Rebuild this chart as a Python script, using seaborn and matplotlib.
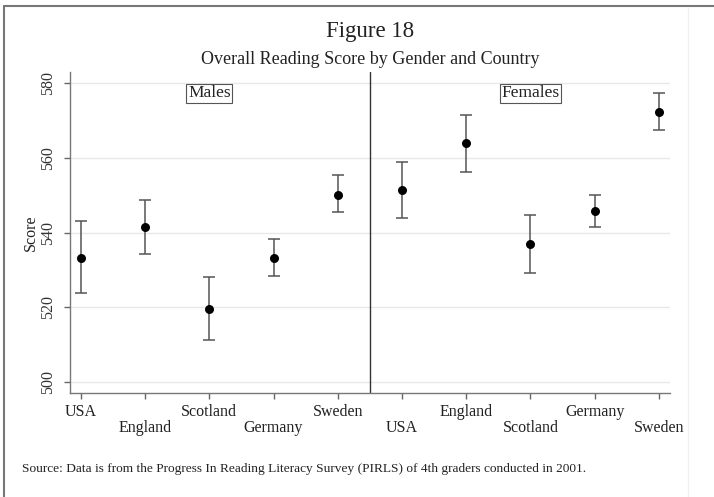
"""
Figure 18: overall reading score by gender and country (PIRLS 2001).
"""

import numpy as np
import pandas as pd
import matplotlib
matplotlib.use('Agg')
import matplotlib.pyplot as plt
import seaborn as sns

countries = ["USA", "England", "Scotland", "Germany", "Sweden"]
genders = ["Males", "Females"]
male_score = [533.3, 541.4, 519.5, 533.3, 550.2]
male_low = [523.8, 534.3, 511.3, 528.5, 545.4]
male_high = [543.0, 548.8, 528.0, 538.2, 555.4]
female_score = [551.3, 564.0, 537.0, 545.8, 572.4]
female_low = [543.8, 556.3, 529.3, 541.6, 567.4]
female_high = [558.8, 571.6, 544.7, 550.2, 577.5]

df = pd.DataFrame({
    "gender": np.repeat(genders, len(countries)),
    "country": countries * 2,
    "score": male_score + female_score,
    "low": male_low + female_low,
    "high": male_high + female_high,
})
df["pos"] = np.arange(1, len(df) + 1)

sns.set_theme(style="white")
plt.rcParams['font.family'] = ['Liberation Serif', 'DejaVu Serif']

fig = plt.figure(figsize=(7.14, 4.97), dpi=100)
ax = fig.add_axes([0.098, 0.209, 0.840, 0.646])

for y in [500, 520, 540, 560, 580]:
    ax.axhline(y, color='#e8e8e8', linewidth=1.0, zorder=0)

ax.errorbar(df["pos"], df["score"],
            yerr=[df["score"] - df["low"], df["high"] - df["score"]],
            fmt='none', ecolor='#555555', elinewidth=1.1, capsize=4, capthick=1.1, zorder=2)
sns.scatterplot(data=df, x="pos", y="score", ax=ax, color='black', s=42,
                edgecolor='black', linewidth=0, zorder=3, legend=False)

ax.axvline(5.5, color='#333333', linewidth=1.0, zorder=1)

ax.set_xlim(0.83, 10.17)
ax.set_ylim(497, 583)
ax.set_yticks([500, 520, 540, 560, 580])
ax.set_yticklabels(['500', '520', '540', '560', '580'], rotation=90, va='center',
                   fontsize=11.5, color='#333333')
ax.set_xticks(df["pos"])
ax.set_xticklabels([])
for p, c in zip(df["pos"], df["country"]):
    off = 0 if p % 2 == 1 else -11.5
    ax.annotate(c, xy=(p, 0), xycoords=('data', 'axes fraction'),
                xytext=(0, -7.5 + off), textcoords='offset points',
                ha='center', va='top', fontsize=11.5, color='#222222')

ax.tick_params(axis='both', direction='out', length=4, width=1, color='#666666',
               bottom=True, left=True)
ax.tick_params(axis='y', pad=6)
for side in ['top', 'right']:
    ax.spines[side].set_visible(False)
for side in ['left', 'bottom']:
    ax.spines[side].set_color('#777777')
    ax.spines[side].set_linewidth(1.0)

ax.set_xlabel('')
ax.set_ylabel('Score', fontsize=11.5, color='#222222', labelpad=1)

for x, g in [(3, "Males"), (8, "Females")]:
    ax.text(x, 577.3, g, ha='center', va='center', fontsize=12.5, color='#222222',
            bbox=dict(boxstyle='square,pad=0.1', facecolor='white', edgecolor='#555555', linewidth=0.8))

fig.text(0.518, 0.937, "Figure 18", ha='center', va='center', fontsize=16.5, color='#222222')
fig.text(0.518, 0.881, "Overall Reading Score by Gender and Country", ha='center',
         va='center', fontsize=13, color='#222222')
fig.text(0.031, 0.056, "Source: Data is from the Progress In Reading Literacy Survey (PIRLS) of 4th graders conducted in 2001.",
         ha='left', va='center', fontsize=9.6, color='#222222')

# page frame lines (top and left)
fig.add_artist(plt.Line2D([0.006, 1.0], [0.988, 0.988], color='#777777', linewidth=1.5))
fig.add_artist(plt.Line2D([0.006, 0.006], [0.0, 0.988], color='#777777', linewidth=1.5))
fig.add_artist(plt.Line2D([0.963, 0.963], [0.0, 0.985], color='#f0f0f0', linewidth=1.0))

fig.savefig("out.png", dpi=100)
plt.close(fig)
